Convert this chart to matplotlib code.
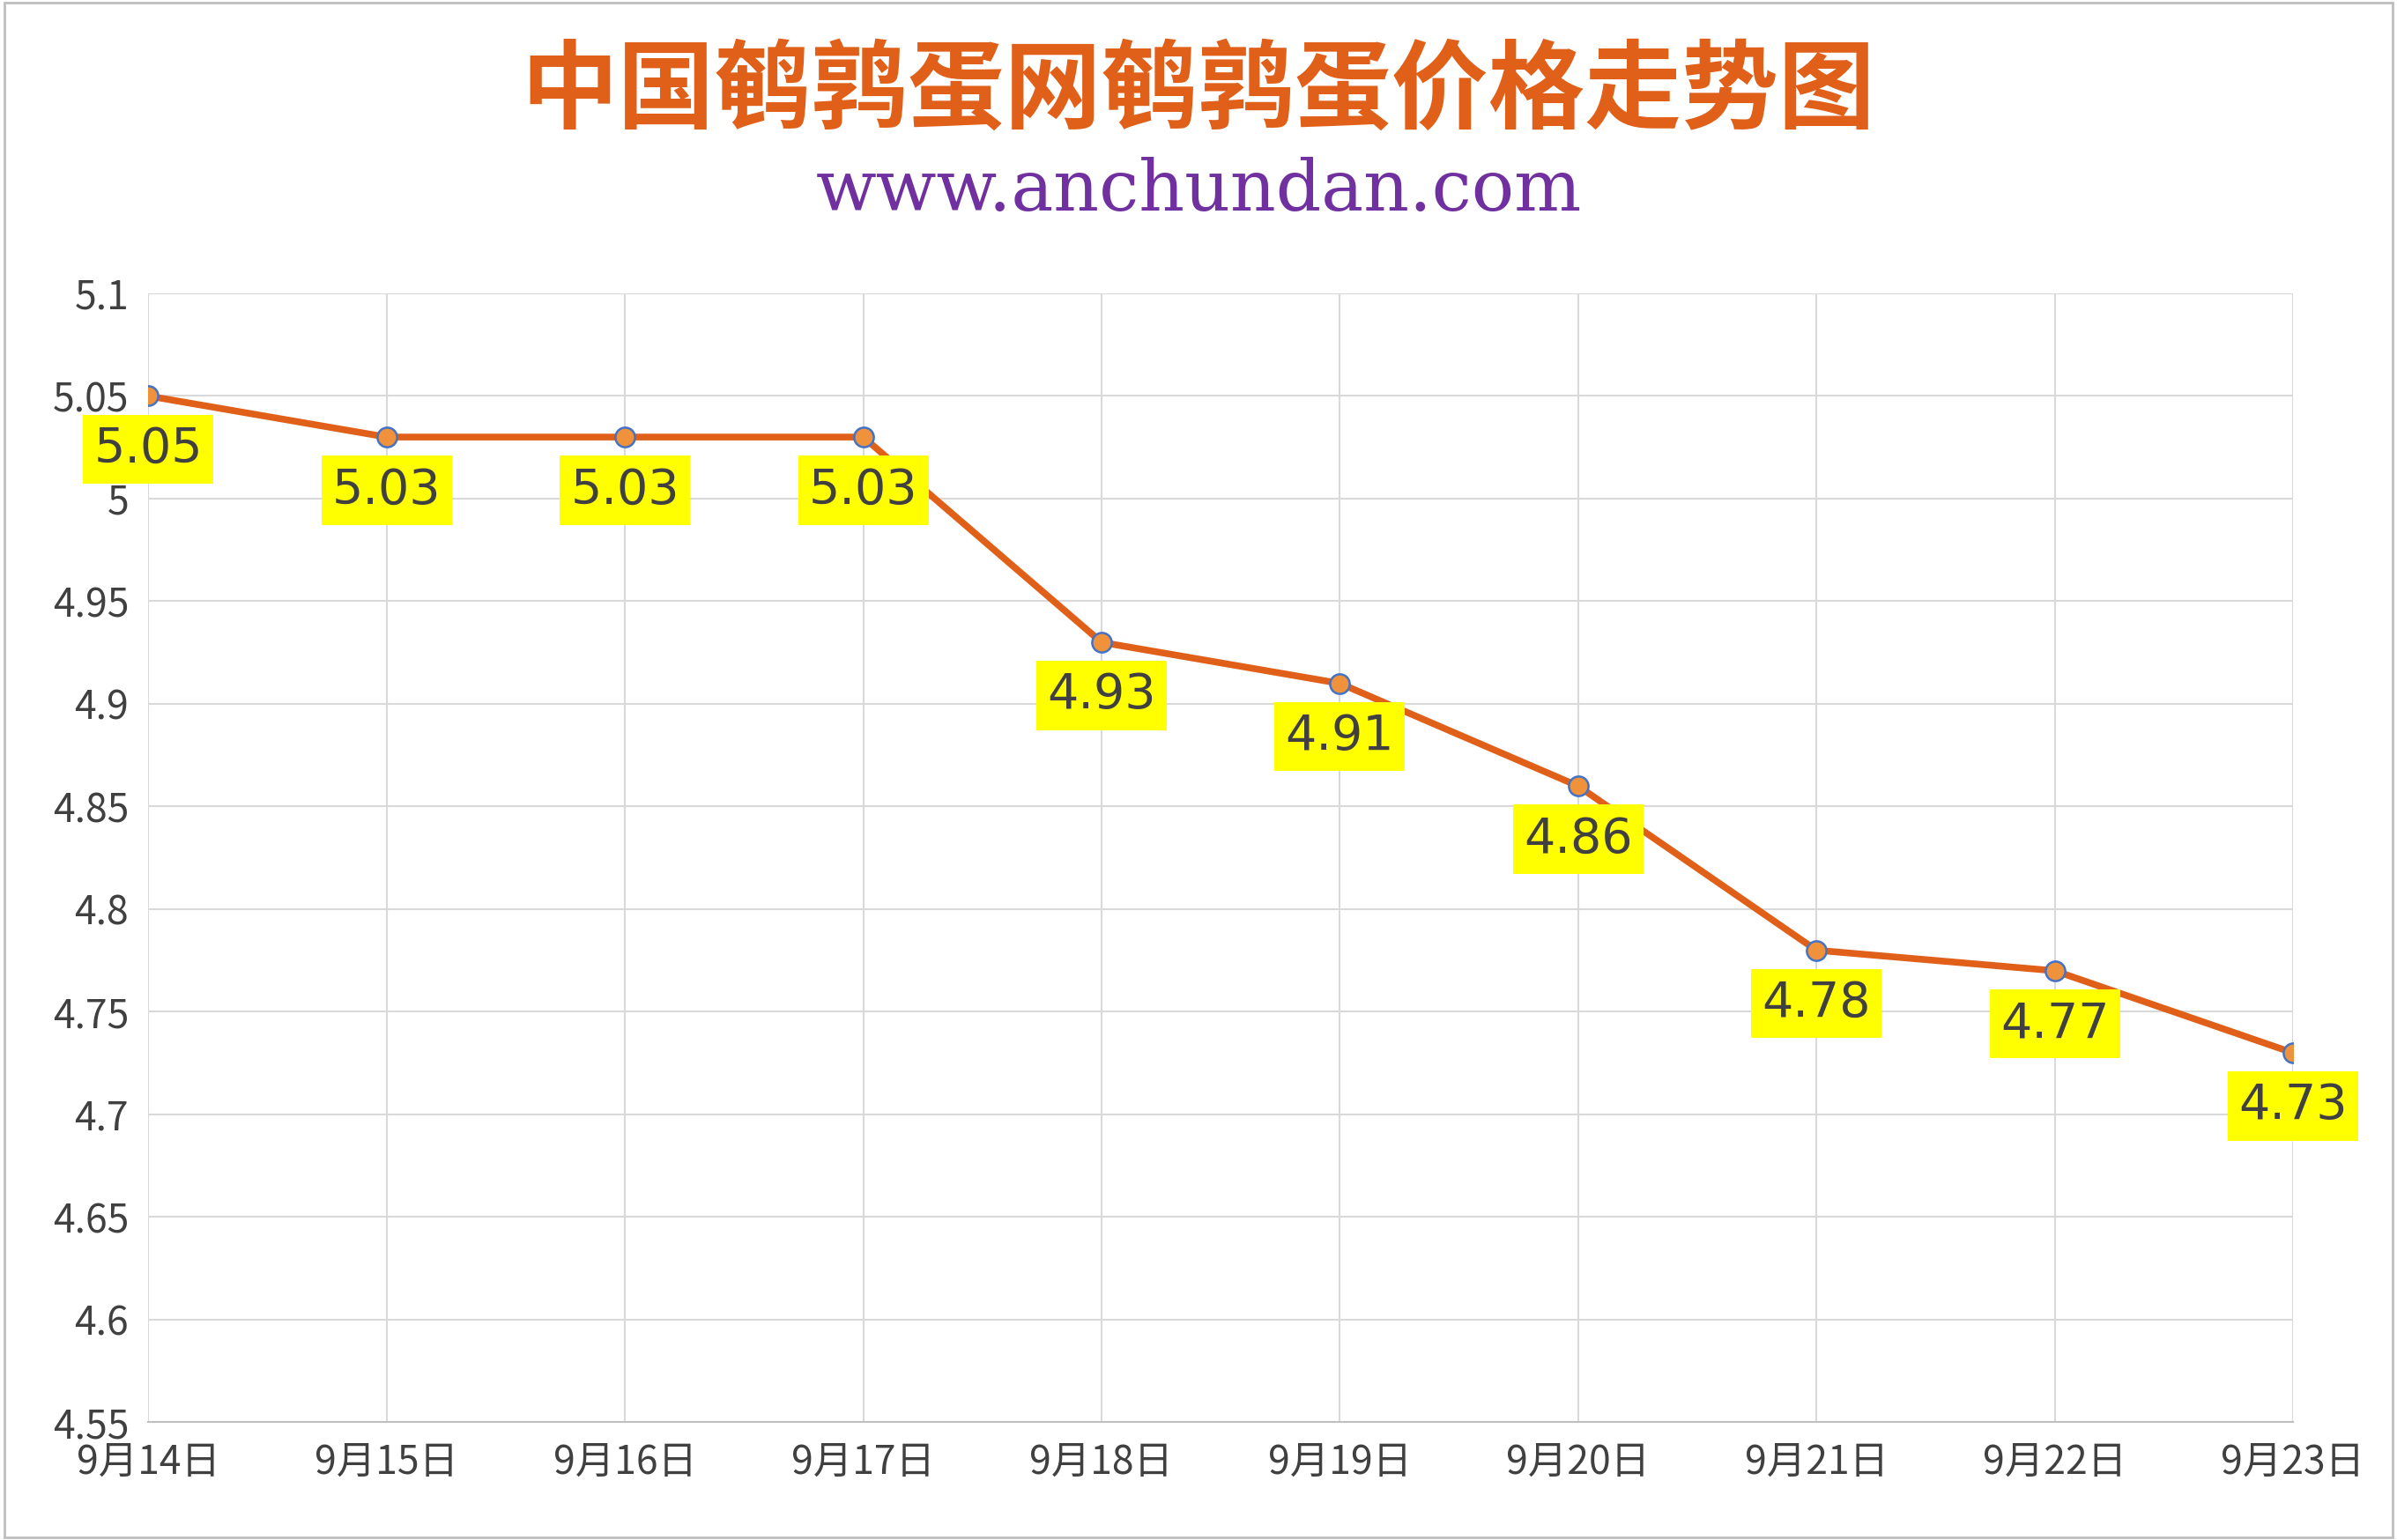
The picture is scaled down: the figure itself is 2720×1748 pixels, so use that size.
import matplotlib
matplotlib.use("Agg")
import matplotlib.pyplot as plt
from matplotlib.patches import Rectangle

dates = ["9月14日","9月15日","9月16日","9月17日","9月18日","9月19日","9月20日","9月21日","9月22日","9月23日"]
prices = [5.05,5.03,5.03,5.03,4.93,4.91,4.86,4.78,4.77,4.73]
yticks = [4.55,4.6,4.65,4.7,4.75,4.8,4.85,4.9,4.95,5,5.05,5.1]
ytick_labels = ["4.55","4.6","4.65","4.7","4.75","4.8","4.85","4.9","4.95","5","5.05","5.1"]

plt.rcParams['font.family'] = ['Noto Sans CJK SC', 'DejaVu Sans']
fig = plt.figure(figsize=(27.2, 17.48), dpi=100)
fig.patches.append(Rectangle((0.002,0.002),0.996,0.996,transform=fig.transFigure,fill=False,edgecolor='#BFBFBF',lw=2))
ax = fig.add_axes([0.0619, 0.0764, 0.8947, 0.7331])
x = list(range(len(dates)))
ax.plot(x, prices, color='#E0601A', lw=5.5, marker='o', markersize=16,
        markerfacecolor='#F0923C', markeredgecolor='#4472C4', markeredgewidth=1.8, zorder=3)
for xi, p in zip(x, prices):
    ax.annotate(f"{p:.2f}", (xi, p), xytext=(0, -24), textcoords='offset points',
                ha='center', va='top', fontsize=40, color='#404040', family=['DejaVu Sans'],
                bbox=dict(boxstyle='square,pad=0.22', fc='#FFFF00', ec='none'), zorder=4)
ax.set_xlim(0, len(dates)-1)
ax.set_ylim(4.55, 5.1)
ax.set_yticks(yticks)
ax.set_yticklabels(ytick_labels)
ax.set_xticks(x)
ax.set_xticklabels(dates)
ax.tick_params(axis='both', length=0, labelsize=32, colors='#404040', pad=16)
ax.grid(True, color='#D9D9D9', lw=1.5)
ax.set_axisbelow(True)
for s in ['top','right','left']:
    ax.spines[s].set_visible(False)
ax.spines['bottom'].set_color('#BFBFBF')
ax.spines['bottom'].set_linewidth(1.5)
fig.text(0.5, 0.94, "中国鹌鹑蛋网鹌鹑蛋价格走势图", ha='center', va='center',
         fontsize=79, fontweight='bold', color='#E0601A')
fig.text(0.5, 0.876, "www.anchundan.com", ha='center', va='center',
         fontsize=58, color='#7030A0', family=['DejaVu Serif'])
fig.savefig("out.png", dpi=100, facecolor='white')
